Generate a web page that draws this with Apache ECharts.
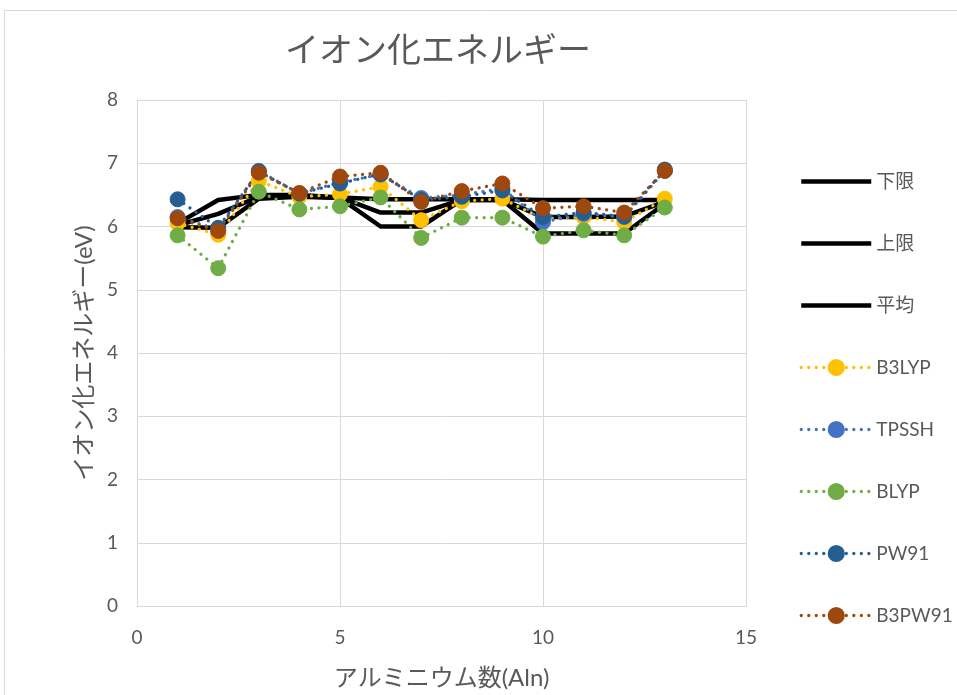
<!DOCTYPE html>
<html>
<head>
<meta charset="utf-8">
<script src="https://cdn.jsdelivr.net/npm/echarts@6/dist/echarts.min.js"></script>
<style>
  html, body { margin: 0; padding: 0; background: #fff; overflow: hidden; }
  #chart { width: 957px; height: 695px; }
</style>
</head>
<body>
<div id="chart"></div>
<script>
// Number of aluminium atoms in the cluster (Al_n)
const clusterSizes = [1, 2, 3, 4, 5, 6, 7, 8, 9, 10, 11, 12, 13];

// Experimental range of ionization energies (eV)
const lowerLimit = [5.99, 5.98, 6.44, 6.47, 6.45, 6.00, 6.00, 6.42, 6.42, 5.89, 5.89, 5.89, 6.36];
const upperLimit = [6.05, 6.42, 6.50, 6.50, 6.46, 6.43, 6.43, 6.43, 6.43, 6.42, 6.42, 6.42, 6.42];
const average    = [6.02, 6.20, 6.47, 6.48, 6.46, 6.22, 6.22, 6.42, 6.42, 6.15, 6.15, 6.16, 6.39];

// Calculated ionization energies per functional (eV)
const b3lyp  = [6.05, 5.87, 6.72, 6.47, 6.51, 6.63, 6.10, 6.40, 6.44, 6.12, 6.15, 6.07, 6.44];
const tpssh  = [6.15, 5.95, 6.88, 6.52, 6.70, 6.82, 6.45, 6.50, 6.60, 6.07, 6.20, 6.15, 6.88];
const blyp   = [5.86, 5.34, 6.55, 6.27, 6.32, 6.46, 5.82, 6.14, 6.14, 5.84, 5.94, 5.86, 6.30];
const pw91   = [6.43, 5.98, 6.87, 6.52, 6.68, 6.83, 6.42, 6.47, 6.57, 6.15, 6.22, 6.16, 6.90];
const b3pw91 = [6.13, 5.93, 6.85, 6.53, 6.79, 6.85, 6.39, 6.56, 6.68, 6.29, 6.32, 6.22, 6.88];

const xTicks = [0, 5, 10, 15];
const yTicks = [0, 1, 2, 3, 4, 5, 6, 7, 8];

const FONT = "Lato, 'Noto Sans CJK JP', sans-serif";
const TEXT_COLOR = '#595959';
const GRID_COLOR = '#D9D9D9';
const RANGE_WIDTH = 4.5;
// Round dots: the round caps give each dot the line width as diameter
const DOT_WIDTH = 3.3;
const DOT_PATTERN = [0.01, 7.5];

function pairs(values) {
  return clusterSizes.map((n, i) => [n, values[i]]);
}

// Solid black line without markers (experimental bounds)
function rangeSeries(name, values) {
  return {
    name: name,
    type: 'line',
    data: pairs(values),
    symbol: 'none',
    lineStyle: { color: '#000', width: RANGE_WIDTH },
    itemStyle: { color: '#000', opacity: 0 },
    z: 2,
    animation: false
  };
}

// Round-dotted line with circle markers (calculated values)
function calcSeries(name, values, color) {
  return {
    name: name,
    type: 'line',
    data: pairs(values),
    symbol: 'circle',
    symbolSize: 15,
    showSymbol: true,
    lineStyle: { color: color, width: DOT_WIDTH, type: DOT_PATTERN, cap: 'round' },
    itemStyle: { color: color, borderColor: color, borderWidth: 1 },
    z: 3,
    animation: false
  };
}

const legendNames = ['下限', '上限', '平均', 'B3LYP', 'TPSSH', 'BLYP', 'PW91', 'B3PW91'];
const lineOnly = ['下限', '上限', '平均'];

const chart = echarts.init(document.getElementById('chart'), null, { renderer: 'canvas', width: 957, height: 695 });

chart.setOption({
  backgroundColor: '#fff',
  animation: false,
  textStyle: { fontFamily: FONT },
  graphic: [{
    type: 'rect',
    shape: { x: 4.5, y: 10.5, width: 1000, height: 1000 },
    style: { fill: 'none', stroke: GRID_COLOR, lineWidth: 1 },
    silent: true
  }],
  title: {
    text: 'イオン化エネルギー',
    left: 433,
    top: 29,
    textAlign: 'center',
    textStyle: { fontFamily: FONT, fontSize: 34, fontWeight: 'normal', color: TEXT_COLOR }
  },
  grid: { left: 137, top: 100, width: 609, height: 512, containLabel: false },
  xAxis: {
    type: 'value',
    min: xTicks[0],
    max: xTicks[xTicks.length - 1],
    interval: 5,
    name: 'アルミニウム数(Aln)',
    nameLocation: 'middle',
    nameGap: 60,
    nameTextStyle: { fontFamily: FONT, fontSize: 24, color: TEXT_COLOR },
    axisLine: { show: true, lineStyle: { color: GRID_COLOR, width: 1 } },
    axisTick: { show: false },
    axisLabel: { fontFamily: FONT, fontSize: 19, color: TEXT_COLOR, margin: 22 },
    splitLine: { show: true, lineStyle: { color: GRID_COLOR, width: 1 } }
  },
  yAxis: {
    type: 'value',
    min: yTicks[0],
    max: yTicks[yTicks.length - 1],
    interval: 1,
    name: 'イオン化エネルギー(eV)',
    nameLocation: 'middle',
    nameGap: 40,
    nameTextStyle: { fontFamily: FONT, fontSize: 24, color: TEXT_COLOR },
    axisLine: { show: true, lineStyle: { color: GRID_COLOR, width: 1 } },
    axisTick: { show: false },
    axisLabel: { fontFamily: FONT, fontSize: 19, color: TEXT_COLOR, margin: 19 },
    splitLine: { show: true, lineStyle: { color: GRID_COLOR, width: 1 } }
  },
  legend: {
    orient: 'vertical',
    left: 794,
    top: 167,
    itemWidth: 70,
    itemHeight: 19,
    itemGap: 43,
    textStyle: { fontFamily: FONT, fontSize: 19, color: TEXT_COLOR },
    data: legendNames.map(n => lineOnly.includes(n)
      ? { name: n, itemStyle: { opacity: 0 }, lineStyle: { width: RANGE_WIDTH, color: '#000' } }
      : { name: n, lineStyle: { width: DOT_WIDTH } })
  },
  series: [
    rangeSeries('下限', lowerLimit),
    rangeSeries('上限', upperLimit),
    rangeSeries('平均', average),
    calcSeries('B3LYP', b3lyp, '#FFC000'),
    calcSeries('TPSSH', tpssh, '#4472C4'),
    calcSeries('BLYP', blyp, '#70AD47'),
    calcSeries('PW91', pw91, '#255E91'),
    calcSeries('B3PW91', b3pw91, '#9E480E')
  ]
});
</script>
</body>
</html>
